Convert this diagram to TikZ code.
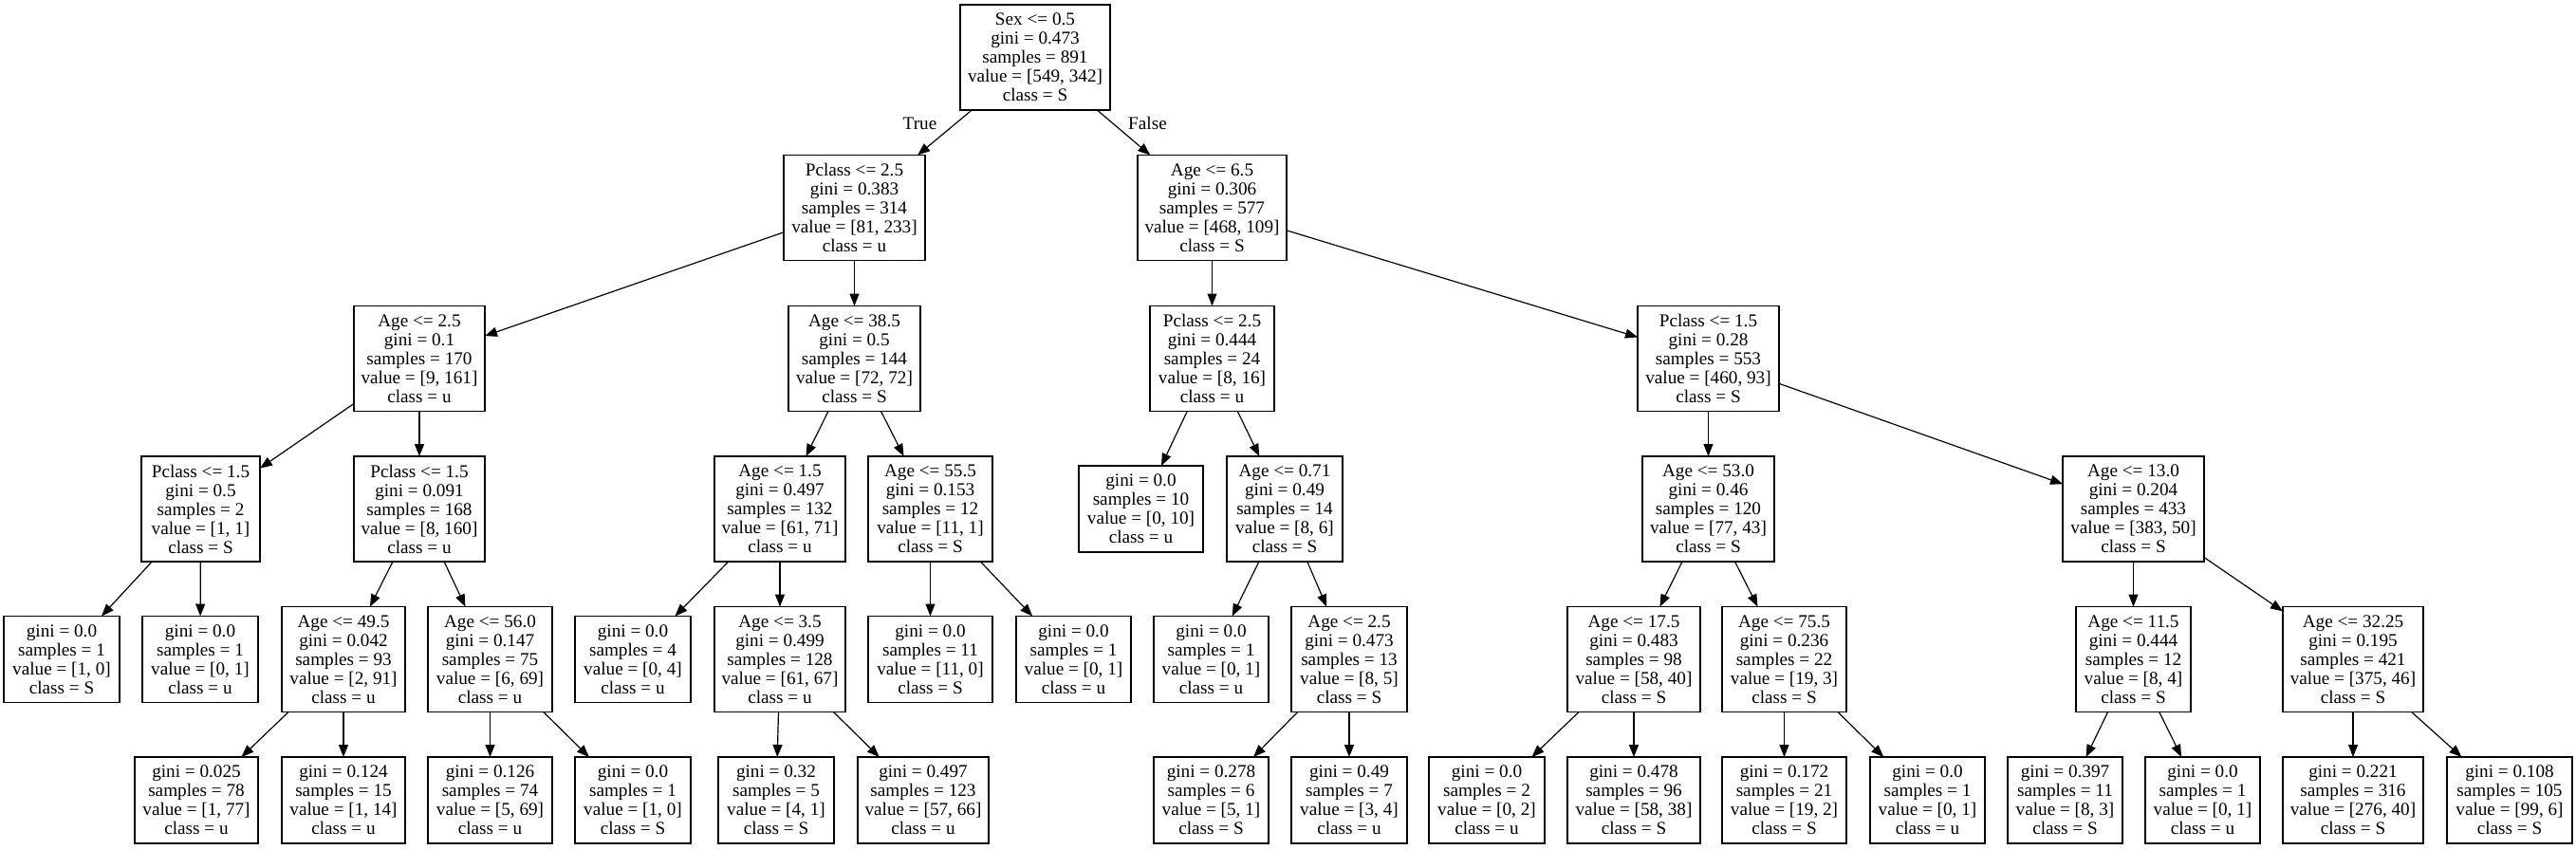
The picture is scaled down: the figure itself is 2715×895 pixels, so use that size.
\documentclass[tikz,border=0pt]{standalone}
\usepackage{fontspec}
\setmainfont{Liberation Serif}
\usetikzlibrary{arrows.meta}
\tikzset{>={Triangle[length=6.5pt,width=5pt]}}
\tikzset{treenode/.style = {shape=rectangle, draw, line width=0.6pt, align=center,
inner sep=0pt, outer sep=0pt, font=\fontsize{9.6}{10}\selectfont},
splitnode/.style = {treenode, minimum height=55.5pt, minimum width=#1*0.5pt},
leafnode/.style = {treenode, minimum height=45.5pt, minimum width=#1*0.5pt},
branch/.style = {->, line width=0.6pt}}

\begin{document}
\begin{tikzpicture}[x=0.5pt, y=-0.5pt]
                \useasboundingbox (0,0) rectangle (2715,895);

                % depth 0 and 1
                \node[splitnode=158] (n0) at (1091,60.5) {Sex <= 0.5\\gini = 0.473\\samples = 891\\value = [549, 342]\\class = S};
                \node[splitnode=149] (n1) at (900.5,219) {Pclass <= 2.5\\gini = 0.383\\samples = 314\\value = [81, 233]\\class = u};
                \node[splitnode=157] (n22) at (1277.5,219) {Age <= 6.5\\gini = 0.306\\samples = 577\\value = [468, 109]\\class = S};
                \node[font=\fontsize{9.6}{10}\selectfont] (lblT) at (969.5,130) {True};
                \node[font=\fontsize{9.6}{10}\selectfont] (lblF) at (1209.5,130) {False};

                % depth 2
                \node[splitnode=138] (n2) at (442,378) {Age <= 2.5\\gini = 0.1\\samples = 170\\value = [9, 161]\\class = u};
                \node[splitnode=139] (n13) at (900.5,378) {Age <= 38.5\\gini = 0.5\\samples = 144\\value = [72, 72]\\class = S};
                \node[splitnode=131] (n23) at (1277.5,378) {Pclass <= 2.5\\gini = 0.444\\samples = 24\\value = [8, 16]\\class = u};
                \node[splitnode=149] (n30) at (1800.5,378) {Pclass <= 1.5\\gini = 0.28\\samples = 553\\value = [460, 93]\\class = S};

                % depth 3
                \node[splitnode=125] (n3) at (211.5,536.5) {Pclass <= 1.5\\gini = 0.5\\samples = 2\\value = [1, 1]\\class = S};
                \node[splitnode=138] (n6) at (442,536.5) {Pclass <= 1.5\\gini = 0.091\\samples = 168\\value = [8, 160]\\class = u};
                \node[splitnode=138] (n14) at (822,536.5) {Age <= 1.5\\gini = 0.497\\samples = 132\\value = [61, 71]\\class = u};
                \node[splitnode=131] (n19) at (980.5,536.5) {Age <= 55.5\\gini = 0.153\\samples = 12\\value = [11, 1]\\class = S};
                \node[leafnode=131] (n24) at (1202.5,536.5) {gini = 0.0\\samples = 10\\value = [0, 10]\\class = u};
                \node[splitnode=122] (n25) at (1354,536.5) {Age <= 0.71\\gini = 0.49\\samples = 14\\value = [8, 6]\\class = S};
                \node[splitnode=139] (n31) at (1800.5,536.5) {Age <= 53.0\\gini = 0.46\\samples = 120\\value = [77, 43]\\class = S};
                \node[splitnode=149] (n38) at (2248.5,536.5) {Age <= 13.0\\gini = 0.204\\samples = 433\\value = [383, 50]\\class = S};

                % depth 4
                \node[leafnode=122] (n4) at (65,695) {gini = 0.0\\samples = 1\\value = [1, 0]\\class = S};
                \node[leafnode=122] (n5) at (211,695) {gini = 0.0\\samples = 1\\value = [0, 1]\\class = u};
                \node[splitnode=130] (n7) at (362,695) {Age <= 49.5\\gini = 0.042\\samples = 93\\value = [2, 91]\\class = u};
                \node[splitnode=131] (n10) at (516.5,695) {Age <= 56.0\\gini = 0.147\\samples = 75\\value = [6, 69]\\class = u};
                \node[leafnode=122] (n15) at (667,695) {gini = 0.0\\samples = 4\\value = [0, 4]\\class = u};
                \node[splitnode=138] (n16) at (822,695) {Age <= 3.5\\gini = 0.499\\samples = 128\\value = [61, 67]\\class = u};
                \node[leafnode=131] (n20) at (980.5,695) {gini = 0.0\\samples = 11\\value = [11, 0]\\class = S};
                \node[leafnode=121] (n21) at (1131.5,695) {gini = 0.0\\samples = 1\\value = [0, 1]\\class = u};
                \node[leafnode=121] (n26) at (1276.5,695) {gini = 0.0\\samples = 1\\value = [0, 1]\\class = u};
                \node[splitnode=122] (n27) at (1422,695) {Age <= 2.5\\gini = 0.473\\samples = 13\\value = [8, 5]\\class = S};
                \node[splitnode=140] (n32) at (1722,695) {Age <= 17.5\\gini = 0.483\\samples = 98\\value = [58, 40]\\class = S};
                \node[splitnode=131] (n35) at (1880.5,695) {Age <= 75.5\\gini = 0.236\\samples = 22\\value = [19, 3]\\class = S};
                \node[splitnode=121] (n39) at (2248.5,695) {Age <= 11.5\\gini = 0.444\\samples = 12\\value = [8, 4]\\class = S};
                \node[splitnode=148] (n42) at (2480,695) {Age <= 32.25\\gini = 0.195\\samples = 421\\value = [375, 46]\\class = S};

                % depth 5
                \node[leafnode=130] (n8) at (207,843.5) {gini = 0.025\\samples = 78\\value = [1, 77]\\class = u};
                \node[leafnode=130] (n9) at (362,843.5) {gini = 0.124\\samples = 15\\value = [1, 14]\\class = u};
                \node[leafnode=131] (n11) at (516.5,843.5) {gini = 0.126\\samples = 74\\value = [5, 69]\\class = u};
                \node[leafnode=122] (n12) at (667,843.5) {gini = 0.0\\samples = 1\\value = [1, 0]\\class = S};
                \node[leafnode=122] (n17) at (818,843.5) {gini = 0.32\\samples = 5\\value = [4, 1]\\class = S};
                \node[leafnode=138] (n18) at (973,843.5) {gini = 0.497\\samples = 123\\value = [57, 66]\\class = u};
                \node[leafnode=121] (n28) at (1276.5,843.5) {gini = 0.278\\samples = 6\\value = [5, 1]\\class = S};
                \node[leafnode=122] (n29) at (1422,843.5) {gini = 0.49\\samples = 7\\value = [3, 4]\\class = u};
                \node[leafnode=122] (n33) at (1567,843.5) {gini = 0.0\\samples = 2\\value = [0, 2]\\class = u};
                \node[leafnode=140] (n34) at (1722,843.5) {gini = 0.478\\samples = 96\\value = [58, 38]\\class = S};
                \node[leafnode=131] (n36) at (1880.5,843.5) {gini = 0.172\\samples = 21\\value = [19, 2]\\class = S};
                \node[leafnode=121] (n37) at (2031.5,843.5) {gini = 0.0\\samples = 1\\value = [0, 1]\\class = u};
                \node[leafnode=121] (n40) at (2176.5,843.5) {gini = 0.397\\samples = 11\\value = [8, 3]\\class = S};
                \node[leafnode=121] (n41) at (2321.5,843.5) {gini = 0.0\\samples = 1\\value = [0, 1]\\class = u};
                \node[leafnode=148] (n43) at (2480,843.5) {gini = 0.221\\samples = 316\\value = [276, 40]\\class = S};
                \node[leafnode=132] (n44) at (2645,843.5) {gini = 0.108\\samples = 105\\value = [99, 6]\\class = S};

                \draw[branch] (n0) -- (n1);
                \draw[branch] (n0) -- (n22);
                \draw[branch] (n1) -- (n2);
                \draw[branch] (n1) -- (n13);
                \draw[branch] (n2) -- (n3);
                \draw[branch] (n2) -- (n6);
                \draw[branch] (n3) -- (n4);
                \draw[branch] (n3) -- (n5);
                \draw[branch] (n6) -- (n7);
                \draw[branch] (n6) -- (n10);
                \draw[branch] (n7) -- (n8);
                \draw[branch] (n7) -- (n9);
                \draw[branch] (n10) -- (n11);
                \draw[branch] (n10) -- (n12);
                \draw[branch] (n13) -- (n14);
                \draw[branch] (n13) -- (n19);
                \draw[branch] (n14) -- (n15);
                \draw[branch] (n14) -- (n16);
                \draw[branch] (n16) -- (n17);
                \draw[branch] (n16) -- (n18);
                \draw[branch] (n19) -- (n20);
                \draw[branch] (n19) -- (n21);
                \draw[branch] (n22) -- (n23);
                \draw[branch] (n22) -- (n30);
                \draw[branch] (n23) -- (n24);
                \draw[branch] (n23) -- (n25);
                \draw[branch] (n25) -- (n26);
                \draw[branch] (n25) -- (n27);
                \draw[branch] (n27) -- (n28);
                \draw[branch] (n27) -- (n29);
                \draw[branch] (n30) -- (n31);
                \draw[branch] (n30) -- (n38);
                \draw[branch] (n31) -- (n32);
                \draw[branch] (n31) -- (n35);
                \draw[branch] (n32) -- (n33);
                \draw[branch] (n32) -- (n34);
                \draw[branch] (n35) -- (n36);
                \draw[branch] (n35) -- (n37);
                \draw[branch] (n38) -- (n39);
                \draw[branch] (n38) -- (n42);
                \draw[branch] (n39) -- (n40);
                \draw[branch] (n39) -- (n41);
                \draw[branch] (n42) -- (n43);
                \draw[branch] (n42) -- (n44);
            \end{tikzpicture}
\end{document}
